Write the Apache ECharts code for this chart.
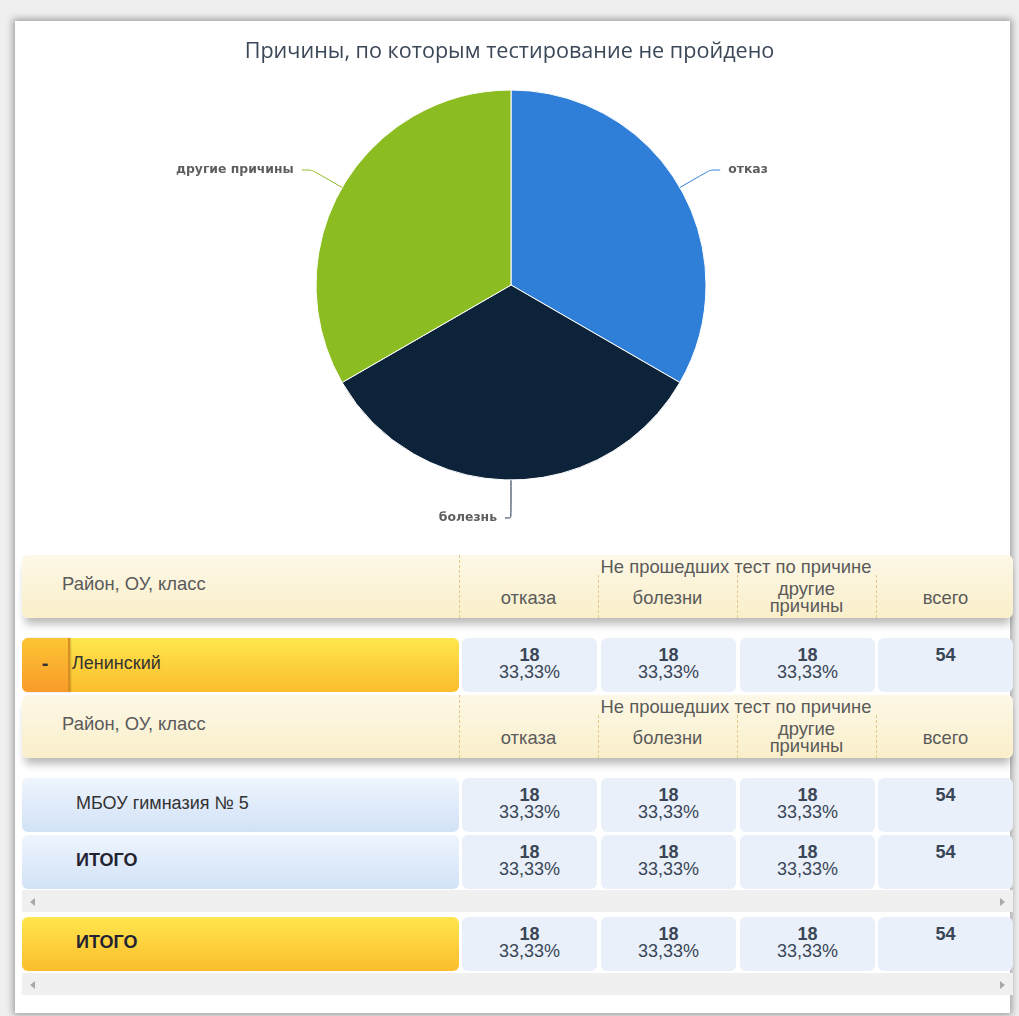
<!DOCTYPE html>
<html><head><meta charset="utf-8">
<script src="https://cdn.jsdelivr.net/npm/echarts@6/dist/echarts.min.js"></script>
<style>
html,body{margin:0;padding:0;}
body{width:1019px;height:1016px;background:#efefef;position:relative;overflow:hidden;font-family:"Liberation Sans",Arial,sans-serif;}
#panel{position:absolute;left:15px;top:21px;width:995px;height:992px;background:#fff;box-shadow:0 0 7px 2px rgba(0,0,0,0.35);}
#chart{position:absolute;left:0;top:0;width:1019px;height:545px;}
.abs{position:absolute;box-sizing:border-box;}
.hdr{background:linear-gradient(#fdf8e7,#faefca);border-radius:6px;box-shadow:0 9px 9px -3px rgba(0,0,0,0.28);}
.dash{position:absolute;border-left:1px dashed #e2c98a;width:0;}
.htxt{position:absolute;color:#5a5a5a;font-size:18.4px;line-height:17px;text-align:center;}
.yel{background:linear-gradient(#ffe64e,#fbbd2c);border-radius:6px;}
.blu{background:linear-gradient(#eef5fd,#d2e2f7);border-radius:6px;}
.cell{background:#e9f0fa;border-radius:6px;color:#3a4656;font-size:18px;line-height:17px;text-align:center;padding-top:9px;}
.cell b{display:block;}
.name{position:absolute;color:#333;font-size:18px;line-height:20px;}
.minus{position:absolute;left:0;top:0;width:46px;height:100%;background:linear-gradient(#fcc534,#f99a2a);border-radius:6px 0 0 6px;border-right:2px solid #d88f1f;box-shadow:1px 0 2px rgba(0,0,0,0.2);text-align:center;font-weight:bold;font-size:20px;color:#333;line-height:50px;}
.scroll{background:#f0f0f0;}
.arrL,.arrR{position:absolute;top:8px;width:0;height:0;border-top:4px solid transparent;border-bottom:4px solid transparent;}
.arrL{left:8px;border-right:5px solid #a8a8a8;}
.arrR{right:8px;border-left:5px solid #a8a8a8;}
</style></head>
<body>
<div id="panel"></div>
<div id="chart"></div>
<div id="table"></div>
<script>
// ---- data ----
const chartTitle = 'Причины, по которым тестирование не пройдено';
const categories = ['отказ', 'болезнь', 'другие причины'];
const values = [18, 18, 18];
const colors = ['#2f7ed8', '#0d233a', '#8bbc21'];

const headerLeft = 'Район, ОУ, класс';
const headerGroup = 'Не прошедших тест по причине';
const headerCols = ['отказа', 'болезни', 'другие<br>причины', 'всего'];

const rowDistrict = 'Ленинский';
const rowSchool = 'МБОУ гимназия № 5';
const rowTotal = 'ИТОГО';
const districtVals = [18, 18, 18];
const schoolVals = [18, 18, 18];
const schoolTotalVals = [18, 18, 18];
const grandTotalVals = [18, 18, 18];

// ---- chart ----
const chart = echarts.init(document.getElementById('chart'), null, {renderer: 'canvas'});
chart.setOption({
  animation: false,
  title: {
    text: chartTitle, left: 'center', top: 36,
    textStyle: {fontFamily: 'Open Sans', fontSize: 21.6, fontWeight: 'normal', color: '#3b4858'}
  },
  series: [{
    type: 'pie',
    center: [511, 285],
    radius: 195,
    startAngle: 89.999,
    silent: true,
    itemStyle: {borderColor: '#ffffff', borderWidth: 1},
    label: {show: true, position: 'outside', color: '#5e5e5e', fontFamily: 'DejaVu Sans', fontSize: 12.4, fontWeight: 'bold', distanceToLabelLine: 8},
    labelLine: {show: true, length: 35, length2: 10, smooth: 0.2, lineStyle: {width: 1}},
    data: categories.map((c, i) => ({
      name: c, value: values[i], itemStyle: {color: colors[i]},
      labelLine: i === 1 ? {length: 38, length2: 6} : undefined
    }))
  }]
});

// ---- table ----
const T = document.getElementById('table');
function el(cls, x, y, w, h, html) {
  const d = document.createElement('div');
  d.className = 'abs ' + cls;
  d.style.left = x + 'px'; d.style.top = y + 'px';
  d.style.width = w + 'px'; d.style.height = h + 'px';
  if (html !== undefined) d.innerHTML = html;
  T.appendChild(d);
  return d;
}
const colStarts = [462, 601, 740, 878];
const colW = 135;
const divX = [459, 598, 737, 876];

function header(y) {
  const h = el('hdr', 22, y, 991, 63);
  const t = document.createElement('div');
  t.className = 'htxt'; t.style.left = '40px'; t.style.top = '20px'; t.style.textAlign = 'left';
  t.innerHTML = headerLeft; h.appendChild(t);
  const g = document.createElement('div');
  g.className = 'htxt'; g.style.left = (divX[0] - 22) + 'px'; g.style.width = (991 - (divX[0] - 22)) + 'px'; g.style.top = '3px';
  g.innerHTML = headerGroup; h.appendChild(g);
  const d0 = document.createElement('div');
  d0.className = 'dash'; d0.style.left = (divX[0] - 22) + 'px'; d0.style.top = '0px'; d0.style.height = '63px';
  h.appendChild(d0);
  headerCols.forEach((c, i) => {
    if (i > 0) {
      const d = document.createElement('div');
      d.className = 'dash'; d.style.left = (divX[i] - 22) + 'px'; d.style.top = '20px'; d.style.height = '43px';
      h.appendChild(d);
    }
    const s = document.createElement('div');
    s.className = 'htxt';
    s.style.left = (divX[i] - 22) + 'px'; s.style.width = '139px';
    const multi = c.indexOf('<br>') >= 0;
    s.style.top = multi ? '25px' : '34px';
    s.innerHTML = c; h.appendChild(s);
  });
}
function fmtPct(v, total) {
  return (v / total * 100).toFixed(2).replace('.', ',') + '%';
}
function dataCells(y, vals) {
  const total = vals.reduce((a, b) => a + b, 0);
  vals.forEach((v, i) => {
    el('cell', colStarts[i], y, colW, 54, '<b>' + v + '</b>' + fmtPct(v, total));
  });
  el('cell', colStarts[3], y, colW, 54, '<b>' + total + '</b>');
}
function nameCell(cls, y, text, bold, minus, x) {
  const c = el(cls, 22, y, 437, 54);
  if (minus) { const m = document.createElement('div'); m.className = 'minus'; m.textContent = '-'; c.appendChild(m); }
  const n = document.createElement('div');
  n.className = 'name'; n.style.left = x + 'px'; n.style.top = '15px';
  if (bold) { n.style.fontWeight = 'bold'; n.style.color = '#222230'; }
  n.textContent = text; c.appendChild(n);
}
function scrollbar(y) {
  const s = el('scroll', 22, y, 991, 22);
  s.innerHTML = '<div class="arrL"></div><div class="arrR"></div>';
}

header(555);
nameCell('yel', 638, rowDistrict, false, true, 50);
dataCells(638, districtVals);
header(695);
nameCell('blu', 778, rowSchool, false, false, 54);
dataCells(778, schoolVals);
nameCell('blu', 835, rowTotal, true, false, 54);
dataCells(835, schoolTotalVals);
scrollbar(890);
nameCell('yel', 917, rowTotal, true, false, 54);
dataCells(917, grandTotalVals);
scrollbar(973);
</script>
</body></html>
